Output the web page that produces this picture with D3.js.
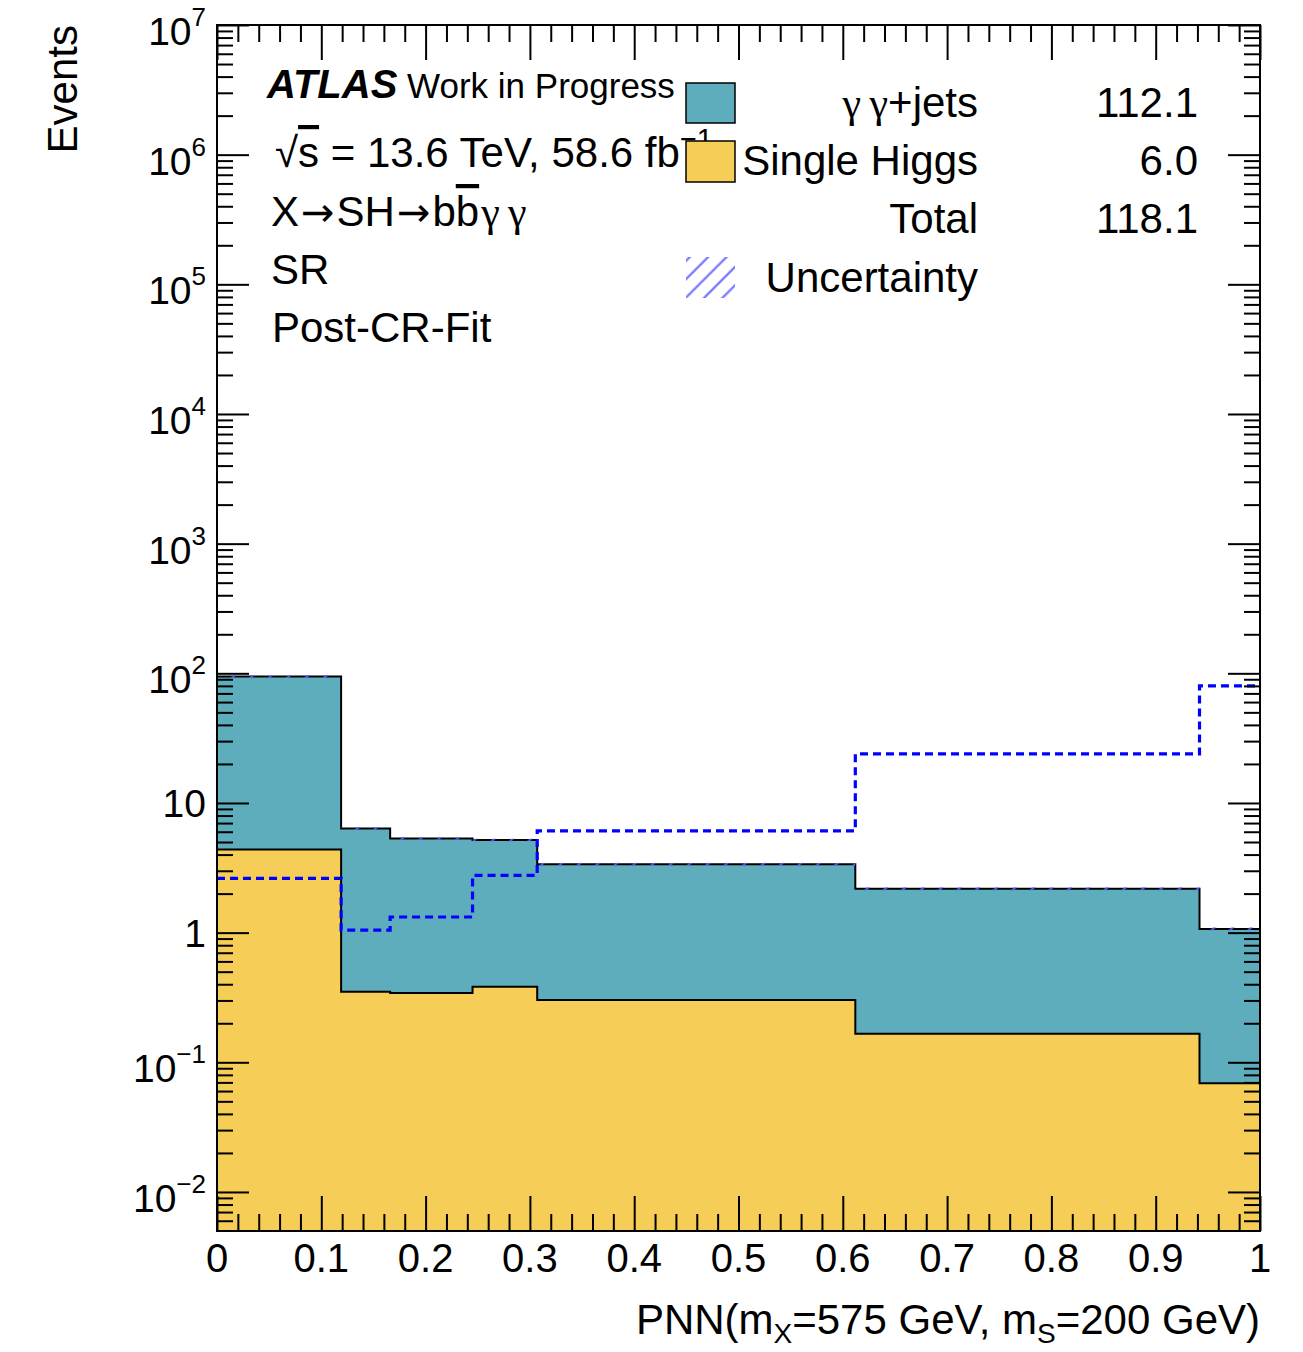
<!DOCTYPE html>
<html>
<head>
<meta charset="utf-8">
<script src="https://cdn.jsdelivr.net/npm/d3@7"></script>
<style>
  body { margin: 0; background: #fff; }
  text { font-family: "Liberation Sans", Arial, Helvetica, sans-serif; fill: #000; }
  .greek { font-family: "Liberation Serif", "DejaVu Serif", serif; }
  .arrow { font-family: "DejaVu Sans", sans-serif; }
</style>
</head>
<body>
<div id="wrapper"></div>
<script>
// DATA
const binEdges = [0, 0.119, 0.166, 0.245, 0.307, 0.612, 0.942, 1];
const gamgamJets = [90.2, 6.01, 4.99, 4.79, 3.06, 2.01, 1.00];
const singleHiggs = [4.38, 0.350, 0.343, 0.382, 0.302, 0.166, 0.0688];
const bkgUncert = [2.4, 0.16, 0.13, 0.13, 0.09, 0.06, 0.03];
const signal = [2.62, 1.045, 1.32, 2.76, 6.09, 23.9, 80.0];

const legendYields = ["112.1", "6.0", "118.1"];
const xMajor = [0, 0.1, 0.2, 0.3, 0.4, 0.5, 0.6, 0.7, 0.8, 0.9, 1];
const yExponents = [-2, -1, 0, 1, 2, 3, 4, 5, 6, 7];

const total = gamgamJets.map((d, i) => d + singleHiggs[i]);

//SVG
const W = 1303, H = 1352;
const svg = d3.select("#wrapper").append("svg")
  .attr("width", W).attr("height", H)
  .attr("viewBox", [0, 0, W, H]);

const x0 = 217, x1 = 1260, yTop = 25, yBot = 1231;
const yMin = 0.005, yMax = 1e7;

const x = d3.scaleLinear().domain([0, 1]).range([x0, x1]);
const y = d3.scaleLog().domain([yMin, yMax]).range([yBot, yTop]);

const defs = svg.append("defs");
defs.append("clipPath").attr("id", "plot")
  .append("rect").attr("x", x0).attr("y", yTop).attr("width", x1 - x0).attr("height", yBot - yTop);

const hatch = defs.append("pattern")
  .attr("id", "hatch")
  .attr("patternUnits", "userSpaceOnUse")
  .attr("width", 13).attr("height", 13)
  .attr("patternTransform", "rotate(45)");
hatch.append("line")
  .attr("x1", 6.5).attr("y1", 0).attr("x2", 6.5).attr("y2", 13)
  .attr("stroke", "#6464ff").attr("stroke-width", 2);

// step points for a histogram
function steps(values) {
  const pts = [];
  values.forEach((v, i) => {
    pts.push([binEdges[i], v]);
    pts.push([binEdges[i + 1], v]);
  });
  return pts;
}

const area = d3.area()
  .x(d => x(d[0]))
  .y0(y(yMin))
  .y1(d => y(d[1]));

const line = d3.line()
  .x(d => x(d[0]))
  .y(d => y(d[1]));

const plot = svg.append("g").attr("clip-path", "url(#plot)");

// STACK
plot.append("path").datum(steps(total))
  .attr("d", area).attr("fill", "#5dadbd");
plot.append("path").datum(steps(total))
  .attr("d", line).attr("fill", "none").attr("stroke", "#000").attr("stroke-width", 2);

plot.append("path").datum(steps(singleHiggs))
  .attr("d", area).attr("fill", "#f5cd57");
plot.append("path").datum(steps(singleHiggs))
  .attr("d", line).attr("fill", "none").attr("stroke", "#000").attr("stroke-width", 2);

// UNCERTAINTY
plot.append("g").selectAll("rect")
  .data(total)
  .join("rect")
  .attr("x", (d, i) => x(binEdges[i]))
  .attr("width", (d, i) => x(binEdges[i + 1]) - x(binEdges[i]))
  .attr("y", (d, i) => y(d + bkgUncert[i]))
  .attr("height", (d, i) => y(d - bkgUncert[i]) - y(d + bkgUncert[i]))
  .attr("fill", "url(#hatch)");

// SIGNAL (dashed)
plot.append("path").datum(steps(signal))
  .attr("d", line).attr("fill", "none")
  .attr("stroke", "#0000ff").attr("stroke-width", 3.2)
  .attr("stroke-dasharray", "8,5");

// AXES / TICKS
const xMinor = d3.range(0, 1.0001, 0.02).filter(v => Math.abs(v * 10 - Math.round(v * 10)) > 1e-6);
const yMajorVals = yExponents.map(e => Math.pow(10, e));
const yMinorVals = [];
for (let e = -3; e <= 6; e++) {
  for (let m = 2; m <= 9; m++) {
    const v = m * Math.pow(10, e);
    if (v > yMin && v < yMax) yMinorVals.push(v);
  }
}

function tickGroup(axis, tx, ty) {
  const g = svg.append("g").attr("transform", `translate(${tx},${ty})`).call(axis);
  g.select(".domain").remove();
  g.selectAll("line").attr("stroke", "#000").attr("stroke-width", 2);
  g.selectAll("text").remove();
  return g;
}

tickGroup(d3.axisBottom(x).tickValues(xMajor).tickSize(-35).tickFormat(""), 0, yBot);
tickGroup(d3.axisBottom(x).tickValues(xMinor).tickSize(-17).tickFormat(""), 0, yBot);
tickGroup(d3.axisTop(x).tickValues(xMajor).tickSize(-35).tickFormat(""), 0, yTop);
tickGroup(d3.axisTop(x).tickValues(xMinor).tickSize(-17).tickFormat(""), 0, yTop);
tickGroup(d3.axisLeft(y).tickValues(yMajorVals).tickSize(-32).tickFormat(""), x0, 0);
tickGroup(d3.axisLeft(y).tickValues(yMinorVals).tickSize(-16).tickFormat(""), x0, 0);
tickGroup(d3.axisRight(y).tickValues(yMajorVals).tickSize(-32).tickFormat(""), x1, 0);
tickGroup(d3.axisRight(y).tickValues(yMinorVals).tickSize(-16).tickFormat(""), x1, 0);

// frame
svg.append("rect")
  .attr("x", x0).attr("y", yTop).attr("width", x1 - x0).attr("height", yBot - yTop)
  .attr("fill", "none").attr("stroke", "#000").attr("stroke-width", 2);

// x tick labels
svg.append("g").selectAll("text")
  .data(xMajor)
  .join("text")
  .attr("x", d => x(d))
  .attr("y", 1272)
  .attr("text-anchor", "middle")
  .attr("font-size", 40)
  .text(d => (d === 0 || d === 1) ? String(d) : d3.format(".1f")(d));

// y tick labels
yExponents.forEach(e => {
  const t = svg.append("text")
    .attr("x", 206)
    .attr("text-anchor", "end")
    .attr("font-size", 39);
  if (e === 0 || e === 1) {
    t.attr("y", y(Math.pow(10, e)) + 14).text(e === 0 ? "1" : "10");
  } else {
    t.attr("y", y(Math.pow(10, e)) + 20);
    t.append("tspan").text("10");
    t.append("tspan").attr("font-size", 26).attr("dy", -19)
      .text(e < 0 ? "\u2212" + (-e) : String(e));
  }
});

// axis titles
svg.append("text")
  .attr("transform", `translate(77,${yTop}) rotate(-90)`)
  .attr("text-anchor", "end")
  .attr("font-size", 42)
  .text("Events");

const xt = svg.append("text")
  .attr("x", x1).attr("y", 1334)
  .attr("text-anchor", "end")
  .attr("font-size", 42);
xt.append("tspan").text("PNN(m");
xt.append("tspan").attr("font-size", 28).attr("dy", 9).text("X");
xt.append("tspan").attr("dy", -9).text("=575 GeV, m");
xt.append("tspan").attr("font-size", 28).attr("dy", 9).text("S");
xt.append("tspan").attr("dy", -9).text("=200 GeV)");

// ATLAS label
const atl = svg.append("text").attr("x", 267).attr("y", 98);
atl.append("tspan").attr("font-weight", "bold").attr("font-style", "italic").attr("font-size", 40).text("ATLAS");
atl.append("tspan").attr("font-size", 35).text(" Work in Progress");

const sq = svg.append("text").attr("x", 275).attr("y", 167).attr("font-size", 42);
sq.append("tspan").text("\u221A");
sq.append("tspan").attr("text-decoration", "overline").text("s");
sq.append("tspan").text(" = 13.6 TeV, 58.6 fb");
sq.append("tspan").attr("font-size", 29).attr("dy", -18).text("\u22121");

const proc = svg.append("text").attr("x", 271).attr("y", 226).attr("font-size", 42);
proc.append("tspan").text("X");
proc.append("tspan").attr("class", "arrow").attr("font-size", 40).attr("dx", 2).text("\u2192");
proc.append("tspan").attr("dx", 2).text("SH");
proc.append("tspan").attr("class", "arrow").attr("font-size", 40).attr("dx", 2).text("\u2192");
proc.append("tspan").attr("dx", 2).text("b");
proc.append("tspan").attr("text-decoration", "overline").text("b");
proc.append("tspan").attr("class", "greek").attr("dx", 2).text("\u03B3\u2009\u03B3");

svg.append("text").attr("x", 271).attr("y", 284).attr("font-size", 42).text("SR");
svg.append("text").attr("x", 272).attr("y", 342).attr("font-size", 42).text("Post-CR-Fit");

// LEGEND
const leg = svg.append("g");
leg.append("rect").attr("x", 686).attr("y", 83).attr("width", 49).attr("height", 40)
  .attr("fill", "#5dadbd").attr("stroke", "#000").attr("stroke-width", 1.5);
leg.append("rect").attr("x", 686).attr("y", 141).attr("width", 49).attr("height", 41)
  .attr("fill", "#f5cd57").attr("stroke", "#000").attr("stroke-width", 1.5);
leg.append("rect").attr("x", 686).attr("y", 257).attr("width", 49).attr("height", 41)
  .attr("fill", "url(#hatch)");

const l1 = leg.append("text").attr("x", 978).attr("y", 117).attr("text-anchor", "end").attr("font-size", 42);
l1.append("tspan").attr("class", "greek").text("\u03B3\u2009\u03B3");
l1.append("tspan").text("+jets");
leg.append("text").attr("x", 978).attr("y", 175).attr("text-anchor", "end").attr("font-size", 42).text("Single Higgs");
leg.append("text").attr("x", 978).attr("y", 233).attr("text-anchor", "end").attr("font-size", 42).text("Total");
leg.append("text").attr("x", 978).attr("y", 292).attr("text-anchor", "end").attr("font-size", 42).text("Uncertainty");

leg.selectAll(".yield")
  .data(legendYields)
  .join("text")
  .attr("class", "yield")
  .attr("x", 1198)
  .attr("y", (d, i) => 117 + i * 58)
  .attr("text-anchor", "end")
  .attr("font-size", 42)
  .text(d => d);
</script>
</body>
</html>
